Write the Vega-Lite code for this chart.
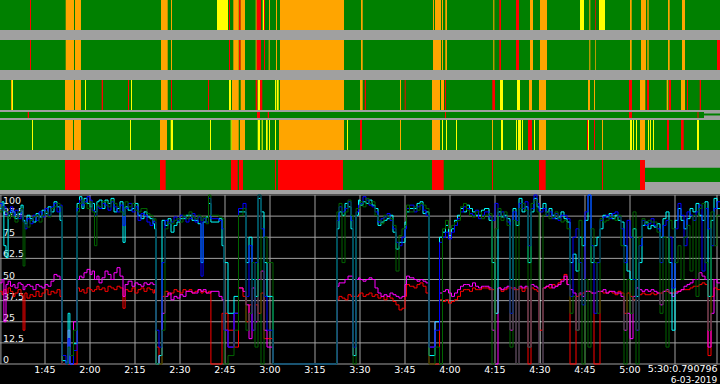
{
"$schema": "https://vega.github.io/schema/vega-lite/v6.json",
"background": "#a0a0a0",
"padding": 0,
"spacing": 4,
"config": {"view": {"stroke": null}},
"resolve": {"scale": {"color": "independent", "stroke": "independent"}},
"datasets": {
"r1": [
{"st":"o","s":90,"e":330},{"st":"a","s":100,"e":100.33},{"st":"w","s":111.9,"e":114.67},{"st":"w","s":115,"e":117},{"st":"w","s":143.67,"e":145.9},{"st":"w","s":147,"e":147.33},{"st":"y","s":162.33,"e":166},{"st":"a","s":166.33,"e":166.67},{"st":"w","s":167.77,"e":169.57},{"st":"a","s":169.67,"e":170.23},{"st":"w","s":170.23,"e":171.67},{"st":"w","s":175.23,"e":175.57},{"st":"a","s":175.57,"e":177},{"st":"y","s":177.57,"e":178},{"st":"a","s":178,"e":178.33},{"st":"w","s":179.67,"e":180},{"st":"w","s":182,"e":182.33},{"st":"w","s":183.33,"e":204.67},{"st":"w","s":210.33,"e":210.9},{"st":"w","s":234.33,"e":234.67},{"st":"w","s":235,"e":237},{"st":"w","s":237.33,"e":237.67},{"st":"w","s":238.43,"e":239},{"st":"w","s":254.43,"e":254.77},{"st":"a","s":256.43,"e":257},{"st":"a","s":262,"e":263},{"st":"w","s":266.67,"e":267.67},{"st":"w","s":270,"e":272.33},{"st":"y","s":283.33,"e":284.67},{"st":"w","s":286.43,"e":286.77},{"st":"a","s":288.43,"e":288.67},{"st":"y","s":289.67,"e":291.67},{"st":"w","s":300,"e":300.57},{"st":"w","s":303.67,"e":305.33},{"st":"w","s":305.77,"e":306.23},{"st":"w","s":312.67,"e":313.23},{"st":"w","s":317.33,"e":318.33}
],
"r2": [
{"st":"o","s":90,"e":330},{"st":"a","s":100,"e":100.33},{"st":"w","s":111.9,"e":114.67},{"st":"w","s":115,"e":117},{"st":"w","s":143.67,"e":145.9},{"st":"w","s":147,"e":147.33},{"st":"a","s":166.33,"e":166.67},{"st":"w","s":167.77,"e":169.57},{"st":"a","s":169.67,"e":170.23},{"st":"w","s":170.23,"e":171.67},{"st":"w","s":175.23,"e":175.57},{"st":"a","s":175.57,"e":177},{"st":"a","s":178,"e":178.33},{"st":"w","s":179.57,"e":179.9},{"st":"w","s":182,"e":182.33},{"st":"w","s":183.33,"e":204.67},{"st":"w","s":210.33,"e":210.9},{"st":"w","s":234.33,"e":237},{"st":"w","s":237.33,"e":237.67},{"st":"w","s":238.43,"e":239},{"st":"w","s":254.43,"e":254.77},{"st":"a","s":256.43,"e":257},{"st":"a","s":262,"e":263},{"st":"w","s":266.67,"e":267.67},{"st":"w","s":270,"e":272.33},{"st":"w","s":286.43,"e":286.77},{"st":"w","s":288.43,"e":288.67},{"st":"w","s":300,"e":300.57},{"st":"w","s":303.67,"e":305.33},{"st":"w","s":305.77,"e":306.23},{"st":"w","s":312.67,"e":313.23},{"st":"w","s":317.33,"e":318.33},{"st":"a","s":329,"e":330}
],
"r3": [
{"st":"o","s":90,"e":330},{"st":"w","s":93.67,"e":94},{"st":"y","s":94,"e":94.33},{"st":"w","s":111.67,"e":114.67},{"st":"w","s":115,"e":117},{"st":"y","s":118.33,"e":118.67},{"st":"a","s":123.9,"e":124.33},{"st":"a","s":132.67,"e":133},{"st":"y","s":133.67,"e":134},{"st":"w","s":143.67,"e":145.9},{"st":"a","s":147,"e":147.33},{"st":"a","s":159.33,"e":159.67},{"st":"y","s":166.33,"e":167},{"st":"w","s":167.33,"e":169.57},{"st":"w","s":170.23,"e":171.67},{"st":"a","s":175.23,"e":175.77},{"st":"y","s":175.9,"e":176.67},{"st":"a","s":176.67,"e":177.43},{"st":"y","s":181.67,"e":182.1},{"st":"y","s":182.33,"e":182.9},{"st":"w","s":183.33,"e":204.67},{"st":"w","s":210,"e":210.9},{"st":"a","s":211.57,"e":212},{"st":"w","s":223.33,"e":223.67},{"st":"a","s":224.9,"e":225.23},{"st":"w","s":234,"e":236.67},{"st":"w","s":237,"e":238},{"st":"a","s":238.33,"e":238.67},{"st":"a","s":254.1,"e":255},{"st":"y","s":256.67,"e":257.67},{"st":"y","s":262.33,"e":263.33},{"st":"w","s":266.33,"e":267.33},{"st":"w","s":269.67,"e":272},{"st":"w","s":286,"e":286.67},{"st":"w","s":288,"e":288.33},{"st":"a","s":299.67,"e":300.67},{"st":"w","s":303.33,"e":305.1},{"st":"a","s":305.67,"e":306.33},{"st":"w","s":312.23,"e":312.77},{"st":"a","s":313,"e":313.67},{"st":"w","s":317,"e":318.33},{"st":"a","s":319,"e":319.33},{"st":"a","s":323.23,"e":323.67}
],
"r3b": [
{"st":"o","s":90,"e":324.67},{"st":"a","s":99.23,"e":99.67},{"st":"a","s":175.67,"e":176.67},{"st":"a","s":179.23,"e":179.67},{"st":"a","s":238.33,"e":238.67},{"st":"a","s":299.67,"e":300.67},{"st":"a","s":322.5,"e":322.83},{"st":"n","s":324.67,"e":330}
],
"r4": [
{"st":"o","s":90,"e":330},{"st":"y","s":100.67,"e":101},{"st":"w","s":111.67,"e":114.33},{"st":"w","s":114.67,"e":117},{"st":"y","s":133.33,"e":133.67},{"st":"w","s":143.33,"e":145.67},{"st":"y","s":146.9,"e":147.67},{"st":"y","s":160,"e":160.33},{"st":"y","s":166.9,"e":167.23},{"st":"w","s":167.33,"e":169.57},{"st":"w","s":170,"e":171.67},{"st":"y","s":175.9,"e":176.67},{"st":"y","s":177.23,"e":177.57},{"st":"y","s":178.67,"e":179.23},{"st":"y","s":179.67,"e":180},{"st":"y","s":181.67,"e":182},{"st":"w","s":183,"e":204.67},{"st":"y","s":205.67,"e":206},{"st":"a","s":210,"e":210.67},{"st":"w","s":223.33,"e":223.67},{"st":"w","s":234,"e":236.67},{"st":"y","s":237.33,"e":237.67},{"st":"y","s":238.67,"e":239},{"st":"y","s":242,"e":242.33},{"st":"w","s":254,"e":254.33},{"st":"y","s":257,"e":257.67},{"st":"y","s":262,"e":262.33},{"st":"y","s":262.67,"e":263.67},{"st":"y","s":264,"e":264.33},{"st":"a","s":266,"e":267.33},{"st":"y","s":268,"e":268.33},{"st":"w","s":269.67,"e":272},{"st":"a","s":285.67,"e":286},{"st":"y","s":286,"e":286.33},{"st":"a","s":288,"e":288.33},{"st":"w","s":290.67,"e":291},{"st":"y","s":300,"e":300.67},{"st":"y","s":301,"e":301.33},{"st":"y","s":302,"e":302.33},{"st":"w","s":303.33,"e":305},{"st":"y","s":306,"e":306.33},{"st":"y","s":306.67,"e":307},{"st":"y","s":307.67,"e":308},{"st":"a","s":312.33,"e":313},{"st":"a","s":317,"e":317.9},{"st":"y","s":322.33,"e":323}
],
"r5": [
{"st":"o","s":90,"e":305},{"st":"a","s":111.67,"e":116.67},{"st":"a","s":143.33,"e":145.23},{"st":"a","s":167,"e":169.23},{"st":"a","s":169.67,"e":171},{"st":"a","s":181.67,"e":182},{"st":"a","s":182.67,"e":204.33},{"st":"a","s":234,"e":237.9},{"st":"a","s":254,"e":254.33},{"st":"a","s":269.67,"e":271.9},{"st":"a","s":290.67,"e":291},{"st":"a","s":303.33,"e":305},{"st":"n","s":305,"e":330}
],
"lines": [
{"t":90,"b":95,"c":92,"g":90,"m":48,"r":43},
{"t":90.7,"b":91,"c":96,"g":93,"m":50,"r":41},
{"t":91.3,"b":93,"c":70,"g":91,"m":25,"r":44},
{"t":92,"b":88,"c":63,"g":90,"m":47,"r":42},
{"t":92.7,"b":90,"c":88,"g":86,"m":49,"r":45},
{"t":93.5,"b":93,"c":91,"g":89,"m":46,"r":43},
{"t":94.3,"b":88,"c":90,"g":87,"m":47,"r":40},
{"t":95,"b":91,"c":86,"g":84,"m":45,"r":42},
{"t":96,"b":86,"c":89,"g":90,"m":48,"r":44},
{"t":97,"b":92,"c":94,"g":92,"m":47,"r":41},
{"t":97.7,"b":84,"c":85,"g":58,"m":44,"r":20},
{"t":98.3,"b":80,"c":83,"g":84,"m":46,"r":42},
{"t":99,"b":86,"c":88,"g":81,"m":47,"r":39},
{"t":100,"b":83,"c":86,"g":85,"m":46,"r":41},
{"t":101,"b":88,"c":84,"g":87,"m":44,"r":40},
{"t":102,"b":85,"c":89,"g":88,"m":47,"r":43},
{"t":103,"b":90,"c":87,"g":84,"m":46,"r":40},
{"t":104,"b":87,"c":91,"g":88,"m":45,"r":42},
{"t":105,"b":92,"c":89,"g":90,"m":47,"r":44},
{"t":106,"b":88,"c":93,"g":87,"m":46,"r":41},
{"t":107,"b":93,"c":90,"g":92,"m":49,"r":43},
{"t":108,"b":95,"c":96,"g":93,"m":53,"r":42},
{"t":109,"b":90,"c":93,"g":95,"m":52,"r":44},
{"t":110,"b":94,"c":85,"g":93,"m":50,"r":40},
{"t":110.7,"b":5,"c":2,"g":0,"m":0,"r":0},
{"t":112,"b":0,"c":0,"g":0,"m":0,"r":0},
{"t":112.7,"b":15,"c":30,"g":10,"m":20,"r":0},
{"t":113.3,"b":0,"c":0,"g":5,"m":0,"r":0},
{"t":114.5,"b":8,"c":12,"g":20,"m":25,"r":0},
{"t":115.7,"b":92,"c":95,"g":90,"m":50,"r":45},
{"t":116.5,"b":97,"c":99,"g":95,"m":52,"r":43},
{"t":117.3,"b":94,"c":92,"g":97,"m":51,"r":44},
{"t":118,"b":96,"c":98,"g":95,"m":54,"r":42},
{"t":119,"b":99,"c":95,"g":92,"m":56,"r":45},
{"t":120,"b":97,"c":93,"g":96,"m":53,"r":44},
{"t":120.7,"b":91,"c":95,"g":90,"m":55,"r":43},
{"t":121.5,"b":88,"c":90,"g":70,"m":50,"r":44},
{"t":122.3,"b":93,"c":96,"g":94,"m":52,"r":46},
{"t":123,"b":92,"c":97,"g":93,"m":48,"r":44},
{"t":124,"b":95,"c":92,"g":96,"m":51,"r":45},
{"t":125,"b":94,"c":97,"g":96,"m":55,"r":43},
{"t":126,"b":91,"c":95,"g":93,"m":53,"r":46},
{"t":127,"b":96,"c":98,"g":97,"m":50,"r":45},
{"t":128,"b":93,"c":90,"g":95,"m":54,"r":44},
{"t":129,"b":90,"c":92,"g":93,"m":57,"r":46},
{"t":130,"b":94,"c":96,"g":90,"m":52,"r":45},
{"t":131,"b":82,"c":72,"g":88,"m":40,"r":33},
{"t":131.7,"b":92,"c":93,"g":96,"m":47,"r":44},
{"t":132.7,"b":95,"c":91,"g":93,"m":49,"r":43},
{"t":134,"b":90,"c":92,"g":95,"m":46,"r":45},
{"t":135,"b":93,"c":95,"g":91,"m":48,"r":42},
{"t":136,"b":85,"c":88,"g":90,"m":47,"r":44},
{"t":137,"b":89,"c":86,"g":92,"m":46,"r":45},
{"t":138,"b":88,"c":90,"g":92,"m":48,"r":43},
{"t":139,"b":84,"c":87,"g":89,"m":47,"r":45},
{"t":140,"b":82,"c":86,"g":88,"m":48,"r":44},
{"t":141,"b":86,"c":83,"g":85,"m":47,"r":42},
{"t":141.5,"b":84,"c":80,"g":86,"m":47,"r":44},
{"t":142,"b":20,"c":0,"g":0,"m":0,"r":10},
{"t":143,"b":10,"c":5,"g":0,"m":5,"r":0},
{"t":144,"b":60,"c":85,"g":20,"m":30,"r":40},
{"t":145,"b":85,"c":82,"g":80,"m":40,"r":43},
{"t":146,"b":83,"c":86,"g":84,"m":42,"r":41},
{"t":147,"b":84,"c":78,"g":83,"m":38,"r":42},
{"t":148,"b":87,"c":82,"g":85,"m":40,"r":44},
{"t":149,"b":85,"c":84,"g":86,"m":39,"r":43},
{"t":150,"b":88,"c":86,"g":84,"m":41,"r":42},
{"t":151,"b":87,"c":86,"g":88,"m":40,"r":44},
{"t":152,"b":84,"c":88,"g":86,"m":43,"r":43},
{"t":153,"b":86,"c":88,"g":90,"m":43,"r":44},
{"t":154,"b":89,"c":85,"g":87,"m":42,"r":42},
{"t":155,"b":84,"c":85,"g":86,"m":42,"r":43},
{"t":156,"b":87,"c":83,"g":88,"m":44,"r":44},
{"t":157,"b":52,"c":60,"g":85,"m":43,"r":42},
{"t":157.7,"b":86,"c":84,"g":87,"m":44,"r":43},
{"t":158.7,"b":84,"c":87,"g":83,"m":42,"r":42},
{"t":159.5,"b":98,"c":95,"g":100,"m":42,"r":43},
{"t":160.3,"b":86,"c":84,"g":88,"m":43,"r":0},
{"t":163,"b":85,"c":86,"g":87,"m":40,"r":0},
{"t":164,"b":80,"c":70,"g":86,"m":38,"r":30},
{"t":164.7,"b":20,"c":60,"g":0,"m":20,"r":30},
{"t":166,"b":10,"c":30,"g":5,"m":10,"r":20},
{"t":168,"b":30,"c":40,"g":20,"m":30,"r":10},
{"t":169.5,"b":92,"c":90,"g":88,"m":45,"r":45},
{"t":171,"b":95,"c":90,"g":92,"m":43,"r":40},
{"t":172,"b":40,"c":60,"g":20,"m":35,"r":25},
{"t":173,"b":70,"c":75,"g":30,"m":15,"r":35},
{"t":174,"b":20,"c":50,"g":60,"m":45,"r":20},
{"t":175,"b":60,"c":40,"g":10,"m":25,"r":35},
{"t":176,"b":100,"c":98,"g":100,"m":50,"r":30},
{"t":177,"b":80,"c":90,"g":0,"m":55,"r":42},
{"t":178,"b":40,"c":60,"g":75,"m":20,"r":15},
{"t":179,"b":20,"c":40,"g":60,"m":10,"r":15},
{"t":181,"b":0,"c":0,"g":0,"m":0,"r":0},
{"t":202.3,"b":85,"c":80,"g":90,"m":46,"r":38},
{"t":203,"b":93,"c":90,"g":95,"m":48,"r":40},
{"t":204,"b":90,"c":88,"g":60,"m":48,"r":39},
{"t":205,"b":92,"c":95,"g":90,"m":50,"r":38},
{"t":206,"b":96,"c":93,"g":97,"m":52,"r":41},
{"t":207,"b":85,"c":80,"g":88,"m":52,"r":40},
{"t":207.7,"b":10,"c":5,"g":0,"m":5,"r":40},
{"t":208.7,"b":90,"c":88,"g":92,"m":50,"r":40},
{"t":209.5,"b":94,"c":97,"g":92,"m":51,"r":41},
{"t":210,"b":95,"c":94,"g":96,"m":50,"r":42},
{"t":211,"b":99,"c":96,"g":93,"m":49,"r":40},
{"t":212,"b":97,"c":95,"g":98,"m":50,"r":41},
{"t":213,"b":94,"c":97,"g":95,"m":51,"r":42},
{"t":214,"b":93,"c":94,"g":96,"m":50,"r":40},
{"t":215,"b":90,"c":92,"g":88,"m":45,"r":41},
{"t":216,"b":84,"c":82,"g":85,"m":42,"r":39},
{"t":217,"b":86,"c":84,"g":83,"m":40,"r":40},
{"t":218,"b":87,"c":85,"g":88,"m":41,"r":38},
{"t":219,"b":89,"c":86,"g":87,"m":40,"r":40},
{"t":220,"b":85,"c":88,"g":86,"m":42,"r":39},
{"t":221,"b":80,"c":78,"g":82,"m":41,"r":37},
{"t":222,"b":72,"c":68,"g":55,"m":40,"r":35},
{"t":223,"b":70,"c":72,"g":76,"m":39,"r":32},
{"t":224,"b":75,"c":72,"g":80,"m":40,"r":33},
{"t":225,"b":80,"c":84,"g":82,"m":47,"r":40},
{"t":225.5,"b":92,"c":90,"g":94,"m":52,"r":47},
{"t":226.5,"b":94,"c":92,"g":90,"m":51,"r":46},
{"t":228,"b":90,"c":92,"g":93,"m":50,"r":45},
{"t":229,"b":93,"c":95,"g":91,"m":49,"r":47},
{"t":230,"b":94,"c":96,"g":95,"m":50,"r":48},
{"t":231,"b":91,"c":89,"g":94,"m":49,"r":46},
{"t":232,"b":88,"c":90,"g":92,"m":48,"r":42},
{"t":233,"b":10,"c":5,"g":0,"m":10,"r":0},
{"t":235,"b":20,"c":25,"g":10,"m":25,"r":0},
{"t":236.5,"b":72,"c":75,"g":0,"m":42,"r":38},
{"t":237.5,"b":75,"c":78,"g":80,"m":43,"r":37},
{"t":238.5,"b":78,"c":82,"g":85,"m":44,"r":38},
{"t":239.5,"b":74,"c":76,"g":80,"m":42,"r":36},
{"t":240.5,"b":78,"c":80,"g":82,"m":40,"r":37},
{"t":241.5,"b":82,"c":85,"g":84,"m":42,"r":38},
{"t":242.5,"b":86,"c":88,"g":85,"m":44,"r":40},
{"t":243.5,"b":90,"c":92,"g":93,"m":46,"r":43},
{"t":244.5,"b":93,"c":90,"g":95,"m":47,"r":44},
{"t":245.5,"b":92,"c":94,"g":91,"m":47,"r":44},
{"t":246.5,"b":89,"c":92,"g":88,"m":46,"r":43},
{"t":247.5,"b":88,"c":90,"g":87,"m":48,"r":45},
{"t":248.5,"b":91,"c":88,"g":90,"m":46,"r":44},
{"t":249.5,"b":86,"c":88,"g":90,"m":45,"r":44},
{"t":250.5,"b":88,"c":91,"g":86,"m":46,"r":45},
{"t":251.5,"b":90,"c":92,"g":88,"m":46,"r":45},
{"t":253,"b":87,"c":85,"g":89,"m":45,"r":44},
{"t":254,"b":85,"c":60,"g":0,"m":20,"r":44},
{"t":255,"b":95,"c":30,"g":80,"m":0,"r":30},
{"t":256,"b":88,"c":90,"g":92,"m":45,"r":45},
{"t":257,"b":90,"c":87,"g":85,"m":44,"r":43},
{"t":258,"b":87,"c":88,"g":90,"m":45,"r":44},
{"t":259,"b":84,"c":86,"g":82,"m":46,"r":45},
{"t":260,"b":30,"c":50,"g":10,"m":20,"r":45},
{"t":261,"b":90,"c":92,"g":85,"m":45,"r":44},
{"t":262,"b":85,"c":82,"g":0,"m":0,"r":44},
{"t":263,"b":95,"c":98,"g":92,"m":46,"r":45},
{"t":264,"b":92,"c":90,"g":95,"m":45,"r":43},
{"t":265,"b":96,"c":93,"g":91,"m":46,"r":45},
{"t":266,"b":70,"c":60,"g":10,"m":10,"r":0},
{"t":267,"b":92,"c":90,"g":95,"m":47,"r":45},
{"t":268,"b":100,"c":98,"g":97,"m":46,"r":44},
{"t":269,"b":95,"c":93,"g":90,"m":45,"r":43},
{"t":269.7,"b":90,"c":92,"g":0,"m":0,"r":20},
{"t":271,"b":92,"c":95,"g":88,"m":45,"r":45},
{"t":272,"b":88,"c":90,"g":90,"m":46,"r":46},
{"t":273,"b":90,"c":92,"g":86,"m":47,"r":45},
{"t":274,"b":86,"c":88,"g":87,"m":45,"r":47},
{"t":275,"b":89,"c":86,"g":90,"m":46,"r":46},
{"t":276,"b":85,"c":87,"g":86,"m":47,"r":48},
{"t":277,"b":88,"c":90,"g":84,"m":49,"r":50},
{"t":278,"b":88,"c":86,"g":85,"m":52,"r":53},
{"t":279,"b":86,"c":84,"g":80,"m":47,"r":47},
{"t":280,"b":40,"c":60,"g":30,"m":44,"r":0},
{"t":281,"b":75,"c":65,"g":40,"m":42,"r":0},
{"t":282,"b":80,"c":55,"g":20,"m":20,"r":40},
{"t":283,"b":60,"c":75,"g":85,"m":42,"r":41},
{"t":284,"b":35,"c":70,"g":0,"m":40,"r":42},
{"t":285,"b":90,"c":85,"g":50,"m":43,"r":43},
{"t":286,"b":100,"c":100,"g":10,"m":43,"r":43},
{"t":287,"b":70,"c":60,"g":80,"m":42,"r":42},
{"t":288,"b":30,"c":70,"g":60,"m":42,"r":0},
{"t":289,"b":60,"c":75,"g":30,"m":43,"r":0},
{"t":290,"b":85,"c":80,"g":86,"m":43,"r":43},
{"t":291,"b":87,"c":88,"g":84,"m":44,"r":42},
{"t":292,"b":88,"c":87,"g":85,"m":42,"r":42},
{"t":293,"b":86,"c":89,"g":87,"m":43,"r":43},
{"t":294,"b":89,"c":86,"g":87,"m":43,"r":42},
{"t":295,"b":90,"c":88,"g":85,"m":42,"r":41},
{"t":296,"b":87,"c":85,"g":88,"m":42,"r":43},
{"t":297,"b":80,"c":84,"g":70,"m":40,"r":42},
{"t":298,"b":60,"c":70,"g":0,"m":20,"r":30},
{"t":299,"b":85,"c":55,"g":50,"m":30,"r":42},
{"t":300,"b":75,"c":50,"g":30,"m":15,"r":40},
{"t":301,"b":50,"c":80,"g":90,"m":40,"r":38},
{"t":302,"b":20,"c":40,"g":0,"m":45,"r":20},
{"t":303,"b":70,"c":60,"g":75,"m":44,"r":41},
{"t":304,"b":85,"c":82,"g":86,"m":43,"r":42},
{"t":305,"b":82,"c":84,"g":83,"m":44,"r":41},
{"t":306,"b":83,"c":80,"g":85,"m":43,"r":41},
{"t":307,"b":86,"c":82,"g":84,"m":44,"r":42},
{"t":308,"b":82,"c":81,"g":84,"m":43,"r":41},
{"t":309,"b":80,"c":83,"g":78,"m":42,"r":42},
{"t":310,"b":60,"c":75,"g":30,"m":35,"r":42},
{"t":311,"b":82,"c":86,"g":75,"m":43,"r":43},
{"t":312,"b":85,"c":90,"g":10,"m":44,"r":43},
{"t":313,"b":75,"c":60,"g":85,"m":42,"r":42},
{"t":314,"b":45,"c":20,"g":80,"m":40,"r":42},
{"t":315,"b":80,"c":85,"g":60,"m":42,"r":43},
{"t":316,"b":95,"c":92,"g":70,"m":43,"r":43},
{"t":317,"b":88,"c":85,"g":50,"m":44,"r":44},
{"t":318,"b":70,"c":80,"g":75,"m":46,"r":44},
{"t":319,"b":90,"c":86,"g":82,"m":47,"r":44},
{"t":320,"b":88,"c":92,"g":55,"m":48,"r":45},
{"t":321,"b":85,"c":90,"g":88,"m":50,"r":46},
{"t":322,"b":90,"c":95,"g":40,"m":50,"r":46},
{"t":323,"b":94,"c":88,"g":92,"m":54,"r":47},
{"t":324,"b":55,"c":85,"g":95,"m":52,"r":48},
{"t":325,"b":92,"c":96,"g":60,"m":50,"r":47},
{"t":326,"b":80,"c":40,"g":20,"m":10,"r":5},
{"t":327,"b":70,"c":85,"g":90,"m":30,"r":40},
{"t":328,"b":92,"c":98,"g":70,"m":50,"r":45},
{"t":329,"b":96,"c":92,"g":88,"m":48,"r":44},
{"t":330,"b":96,"c":92,"g":88,"m":48,"r":44}
]
},
"vconcat": [
{
"spacing": 10,
"vconcat": [
{"width":720,"height":30,"data":{"name":"r1"},"mark":{"type":"rect","strokeWidth":0},"encoding":{"x":{"field":"s","type":"quantitative","scale":{"domain":[90,330]},"axis":null},"x2":{"field":"e"},"color":{"field":"st","type":"nominal","scale":{"domain":["o","w","y","a","n"],"range":["#008000","#ffa500","#ffff00","#ff0000","#a0a0a0"]},"legend":null}}},
{"width":720,"height":30,"data":{"name":"r2"},"mark":{"type":"rect","strokeWidth":0},"encoding":{"x":{"field":"s","type":"quantitative","scale":{"domain":[90,330]},"axis":null},"x2":{"field":"e"},"color":{"field":"st","type":"nominal","scale":{"domain":["o","w","y","a","n"],"range":["#008000","#ffa500","#ffff00","#ff0000","#a0a0a0"]},"legend":null}}},
{
"spacing": 2,
"vconcat": [
{"width":720,"height":30,"data":{"name":"r3"},"mark":{"type":"rect","strokeWidth":0},"encoding":{"x":{"field":"s","type":"quantitative","scale":{"domain":[90,330]},"axis":null},"x2":{"field":"e"},"color":{"field":"st","type":"nominal","scale":{"domain":["o","w","y","a","n"],"range":["#008000","#ffa500","#ffff00","#ff0000","#a0a0a0"]},"legend":null}}},
{"width":720,"height":6,"layer":[
{"data":{"name":"r3b"},"mark":{"type":"rect","strokeWidth":0},"encoding":{"x":{"field":"s","type":"quantitative","scale":{"domain":[90,330]},"axis":null},"x2":{"field":"e"},"color":{"field":"st","type":"nominal","scale":{"domain":["o","w","y","a","n"],"range":["#008000","#ffa500","#ffff00","#ff0000","#a0a0a0"]},"legend":null}}},
{"data":{"values":[{"s":324.67,"e":330}]},"mark":{"type":"rect","strokeWidth":0,"color":"#008000"},"encoding":{"x":{"field":"s","type":"quantitative","scale":{"domain":[90,330]},"axis":null},"x2":{"field":"e"},"y":{"datum":0.42,"type":"quantitative","scale":{"domain":[0,1],"nice":false,"zero":false},"axis":null},"y2":{"datum":0.75}}}
]},
{"width":720,"height":30,"data":{"name":"r4"},"mark":{"type":"rect","strokeWidth":0},"encoding":{"x":{"field":"s","type":"quantitative","scale":{"domain":[90,330]},"axis":null},"x2":{"field":"e"},"color":{"field":"st","type":"nominal","scale":{"domain":["o","w","y","a","n"],"range":["#008000","#ffa500","#ffff00","#ff0000","#a0a0a0"]},"legend":null}}}
]
},
{"width":720,"height":30,"layer":[
{"data":{"name":"r5"},"mark":{"type":"rect","strokeWidth":0},"encoding":{"x":{"field":"s","type":"quantitative","scale":{"domain":[90,330]},"axis":null},"x2":{"field":"e"},"color":{"field":"st","type":"nominal","scale":{"domain":["o","w","y","a","n"],"range":["#008000","#ffa500","#ffff00","#ff0000","#a0a0a0"]},"legend":null}}},
{"data":{"values":[{"s":305,"e":330}]},"mark":{"type":"rect","strokeWidth":0,"color":"#008000"},"encoding":{"x":{"field":"s","type":"quantitative","scale":{"domain":[90,330]},"axis":null},"x2":{"field":"e"},"y":{"datum":0.27,"type":"quantitative","scale":{"domain":[0,1],"nice":false,"zero":false},"axis":null},"y2":{"datum":0.74}}}
]}
]
},
{
"width": 720,
"height": 190,
"view": {"fill": "#000000", "stroke": null},
"layer": [
{"data":{"values":[{"v":0},{"v":12.5},{"v":25},{"v":37.5},{"v":50},{"v":62.5},{"v":75},{"v":87.5},{"v":100}]},"mark":{"type":"rule","color":"#a0a0a0","strokeWidth":1,"clip":true},"encoding":{"y":{"field":"v","type":"quantitative","scale":{"domain":[-11.83,100.59],"nice":false,"zero":false},"axis":null}}},
{"data":{"values":[{"t":90.3},{"t":105},{"t":120},{"t":135},{"t":150},{"t":165},{"t":180},{"t":195},{"t":210},{"t":225},{"t":240},{"t":255},{"t":285},{"t":300},{"t":315},{"t":329}]},"mark":{"type":"rule","color":"#a0a0a0","strokeWidth":1,"clip":true},"encoding":{"x":{"field":"t","type":"quantitative","scale":{"domain":[90,330],"nice":false,"zero":false},"axis":null},"y":{"datum":0,"type":"quantitative","scale":{"domain":[-11.83,100.59],"nice":false,"zero":false},"axis":null},"y2":{"datum":100}}},
{"data":{"values":[{"label":"0","v":0},{"label":"12.5","v":12.5},{"label":"25","v":25},{"label":"37.5","v":37.5},{"label":"50","v":50},{"label":"62.5","v":62.5},{"label":"75","v":75},{"label":"87.5","v":87.5}]},"mark":{"type":"text","align":"left","baseline":"alphabetic","dy":-1,"fontSize":9.5,"font":"DejaVu Sans","color":"#f0f0f0"},"encoding":{"x":{"datum":91,"type":"quantitative","scale":{"domain":[90,330],"nice":false,"zero":false},"axis":null},"y":{"field":"v","type":"quantitative","scale":{"domain":[-11.83,100.59],"nice":false,"zero":false},"axis":null},"text":{"field":"label"}}},
{"data":{"values":[{"label":"100"}]},"mark":{"type":"text","align":"left","baseline":"top","dy":1,"fontSize":9.5,"font":"DejaVu Sans","color":"#f0f0f0"},"encoding":{"x":{"datum":91,"type":"quantitative","scale":{"domain":[90,330],"nice":false,"zero":false},"axis":null},"y":{"datum":100,"type":"quantitative","scale":{"domain":[-11.83,100.59],"nice":false,"zero":false},"axis":null},"text":{"field":"label"}}},
{"data":{"values":[{"t":270}]},"mark":{"type":"rule","color":"#ffffff","strokeWidth":1,"clip":true},"encoding":{"x":{"field":"t","type":"quantitative","scale":{"domain":[90,330],"nice":false,"zero":false},"axis":null},"y":{"datum":0,"type":"quantitative","scale":{"domain":[-11.83,100.59],"nice":false,"zero":false},"axis":null},"y2":{"datum":100}}},
{"data":{"name":"lines"},"transform":[{"fold":["r","m","c","b","g"],"as":["series","val"]}],"mark":{"type":"line","interpolate":"step-after","strokeWidth":1,"clip":true},"encoding":{"x":{"field":"t","type":"quantitative","scale":{"domain":[90,330],"nice":false,"zero":false},"axis":null},"y":{"field":"val","type":"quantitative","scale":{"domain":[-11.83,100.59],"nice":false,"zero":false},"axis":null},"stroke":{"field":"series","type":"nominal","scale":{"domain":["r","m","c","b","g"],"range":["#ff0000","#ff00ff","#00ffff","#0000ff","#006400"]},"legend":null}}},
{"data":{"values":[{"t":105,"label":"1:45"},{"t":120,"label":"2:00"},{"t":135,"label":"2:15"},{"t":150,"label":"2:30"},{"t":165,"label":"2:45"},{"t":180,"label":"3:00"},{"t":195,"label":"3:15"},{"t":210,"label":"3:30"},{"t":225,"label":"3:45"},{"t":240,"label":"4:00"},{"t":255,"label":"4:15"},{"t":270,"label":"4:30"},{"t":285,"label":"4:45"},{"t":300,"label":"5:00"}]},"mark":{"type":"text","align":"center","baseline":"alphabetic","fontSize":9.5,"font":"DejaVu Sans","color":"#ffffff"},"encoding":{"x":{"field":"t","type":"quantitative","scale":{"domain":[90,330],"nice":false,"zero":false},"axis":null},"y":{"datum":-5.2,"type":"quantitative","scale":{"domain":[-11.83,100.59],"nice":false,"zero":false},"axis":null},"text":{"field":"label"}}},
{"data":{"values":[{"label":"5:30:0.790796"}]},"mark":{"type":"text","align":"right","baseline":"alphabetic","fontSize":9.5,"font":"DejaVu Sans","color":"#ffffff"},"encoding":{"x":{"datum":329.2,"type":"quantitative","scale":{"domain":[90,330],"nice":false,"zero":false},"axis":null},"y":{"datum":-4.9,"type":"quantitative","scale":{"domain":[-11.83,100.59],"nice":false,"zero":false},"axis":null},"text":{"field":"label"}}},
{"data":{"values":[{"label":"6-03-2019"}]},"mark":{"type":"text","align":"right","baseline":"alphabetic","fontSize":9,"font":"DejaVu Sans","color":"#ffffff"},"encoding":{"x":{"datum":329.1,"type":"quantitative","scale":{"domain":[90,330],"nice":false,"zero":false},"axis":null},"y":{"datum":-11.5,"type":"quantitative","scale":{"domain":[-11.83,100.59],"nice":false,"zero":false},"axis":null},"text":{"field":"label"}}}
]
}
]
}
